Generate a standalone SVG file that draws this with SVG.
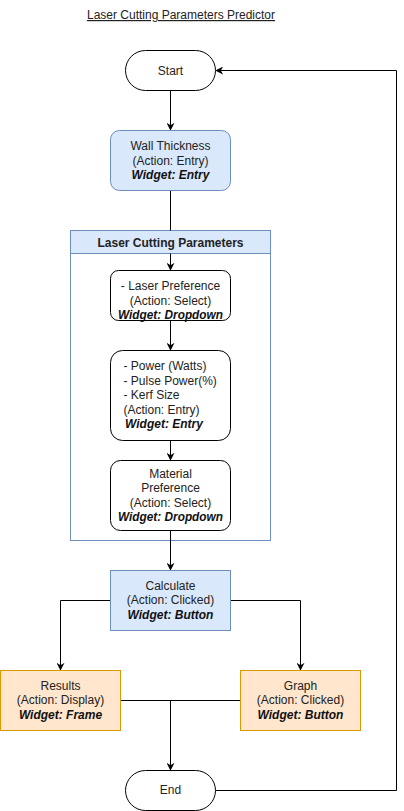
<svg xmlns="http://www.w3.org/2000/svg" width="404" height="811" viewBox="0 0 404 811">
<defs>
<style>
text{font-family:"Liberation Sans",Arial,sans-serif;font-size:12px;fill:#222}
.c{text-anchor:middle}
.w{font-weight:bold;font-style:italic;fill:#111}
.blue{fill:#dae8fc;stroke:#6c8ebf;stroke-width:1}
.orange{fill:#ffe6cc;stroke:#d79b00;stroke-width:1}
.plain{fill:#ffffff;stroke:#000000;stroke-width:1}
.edge{fill:none;stroke:#000000;stroke-width:1}
</style>
<marker id="arr" viewBox="0 0 10 10" refX="9" refY="5" markerWidth="8" markerHeight="8" markerUnits="userSpaceOnUse" orient="auto">
<path d="M0,0 L10,5 L0,10 L3,5 Z" fill="#000"/>
</marker>
</defs>
<rect width="404" height="811" fill="#ffffff"/>
<g id="title">
<text class="c" x="181" y="19" font-size="13" text-decoration="underline">Laser Cutting Parameters Predictor</text>
</g>
<g id="container">
<rect x="70.5" y="230.5" width="200" height="310" fill="#ffffff" stroke="#6c8ebf"/>
<rect x="70.5" y="230.5" width="200" height="23" class="blue"/>
<text class="c" x="170.5" y="246.5" font-weight="bold">Laser Cutting Parameters</text>
</g>
<g id="connectors">
<path class="edge" d="M170.5,90.5 V130" marker-end="url(#arr)"/>
<path class="edge" d="M170.5,190.5 V230.5"/>
<path class="edge" d="M170.5,253.5 V270" marker-end="url(#arr)"/>
<path class="edge" d="M170.5,320.5 V350" marker-end="url(#arr)"/>
<path class="edge" d="M170.5,440.5 V460" marker-end="url(#arr)"/>
<path class="edge" d="M170.5,530.5 V570" marker-end="url(#arr)"/>
<path class="edge" d="M110.5,600.5 H60.5 V670" marker-end="url(#arr)"/>
<path class="edge" d="M230.5,600.5 H300.5 V670" marker-end="url(#arr)"/>
<path class="edge" d="M120.5,700.5 H240.5"/>
<path class="edge" d="M170.5,700.5 V770" marker-end="url(#arr)"/>
<path class="edge" d="M215.5,790.5 H396.5 V70.5 H216" marker-end="url(#arr)"/>
</g>
<g id="start">
<rect x="125.5" y="50.5" width="90" height="40" rx="20" ry="20" class="plain"/>
<text class="c" x="170.5" y="74.5">Start</text>
</g>
<g id="wall">
<rect x="110.5" y="130.5" width="120" height="60" rx="9" ry="9" class="blue"/>
<text class="c" x="170.5" y="150">Wall Thickness</text>
<text class="c" x="170.5" y="164.5">(Action: Entry)</text>
<text class="c w" x="170.5" y="179">Widget: Entry</text>
</g>
<g id="laser">
<rect x="110.5" y="270.5" width="120" height="50" rx="8" ry="8" class="plain"/>
<text class="c" x="170.5" y="290">- Laser Preference</text>
<text class="c" x="170.5" y="304.5">(Action: Select)</text>
<text class="c w" x="170.5" y="318.5" textLength="105" lengthAdjust="spacingAndGlyphs">Widget: Dropdown</text>
</g>
<g id="power">
<rect x="110.5" y="350.5" width="120" height="90" rx="12" ry="12" class="plain"/>
<text x="123.5" y="370">- Power (Watts)</text>
<text x="123.5" y="385">- Pulse Power(%)</text>
<text x="123.5" y="399">- Kerf Size</text>
<text x="123.5" y="413.5">(Action: Entry)</text>
<text class="w" x="125" y="428">Widget: Entry</text>
</g>
<g id="material">
<rect x="110.5" y="460.5" width="120" height="70" rx="10" ry="10" class="plain"/>
<text class="c" x="170.5" y="478">Material</text>
<text class="c" x="170.5" y="492">Preference</text>
<text class="c" x="170.5" y="506.5">(Action: Select)</text>
<text class="c w" x="170.5" y="520.5" textLength="105" lengthAdjust="spacingAndGlyphs">Widget: Dropdown</text>
</g>
<g id="calculate">
<rect x="110.5" y="570.5" width="120" height="60" class="blue"/>
<text class="c" x="170.5" y="590">Calculate</text>
<text class="c" x="170.5" y="604">(Action: Clicked)</text>
<text class="c w" x="170.5" y="618.5">Widget: Button</text>
</g>
<g id="results">
<rect x="0.5" y="670.5" width="120" height="60" class="orange"/>
<text class="c" x="60.5" y="690">Results</text>
<text class="c" x="60.5" y="704">(Action: Display)</text>
<text class="c w" x="60.5" y="718.5">Widget: Frame</text>
</g>
<g id="graph">
<rect x="240.5" y="670.5" width="120" height="60" class="orange"/>
<text class="c" x="300.5" y="690">Graph</text>
<text class="c" x="300.5" y="704">(Action: Clicked)</text>
<text class="c w" x="300.5" y="718.5">Widget: Button</text>
</g>
<g id="end">
<rect x="125.5" y="770.5" width="90" height="40" rx="20" ry="20" class="plain"/>
<text class="c" x="170.5" y="794">End</text>
</g>
</svg>
